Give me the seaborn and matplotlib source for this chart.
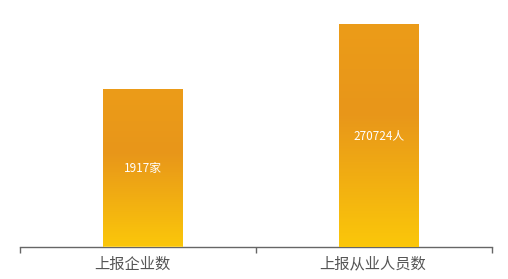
import numpy as np
import pandas as pd
import matplotlib
matplotlib.use("Agg")
import matplotlib.pyplot as plt
import seaborn as sns
from matplotlib.colors import LinearSegmentedColormap

categories = ["上报企业数", "上报从业人员数"]
values = [1917, 270724]
value_labels = ["1917家", "270724人"]
axis_max = [3000, 300000]

sns.set_theme(style="white")
plt.rcParams['font.family'] = ['Noto Sans CJK SC', 'DejaVu Sans']

fig = plt.figure(figsize=(5.08, 2.79), dpi=100)
ax = fig.add_axes([20/508, 1 - 247/279, 472/508, 247/279])
ax2 = ax.twinx()

cmap = LinearSegmentedColormap.from_list(
    "g", [(0.0, "#ec9c18"), (0.4, "#e8961a"), (1.0, "#fbc70a")])

XL = (-0.52, 1.48)
axes_list = [ax, ax2]
for i, (cat, val) in enumerate(zip(categories, values)):
    a = axes_list[i]
    df = pd.DataFrame({"cat": categories, "val": [val if j == i else 0 for j in range(2)]})
    sns.barplot(data=df, x="cat", y="val", ax=a, color="#eea01a", width=0.335,
                order=categories)
    p = a.patches[i]
    x0, y0 = p.get_x(), p.get_y()
    w, h = p.get_width(), p.get_height()
    grad = np.linspace(0, 1, 256).reshape(-1, 1)
    im = a.imshow(grad, cmap=cmap, extent=[x0, x0 + w, y0, y0 + h],
                  aspect="auto", zorder=3, origin="upper")
    im.set_clip_path(p)
    p.set_edgecolor("none")
    a.text(x0 + w / 2, h / 2, value_labels[i], ha="center", va="center",
           color="white", fontsize=8.5, zorder=5)
    a.set_xlim(*XL)
    a.set_ylim(0, axis_max[i])

for a in axes_list:
    a.set_ylabel("")
    a.set_xlabel("")
    a.set_yticks([])
    for s in ["top", "left", "right"]:
        a.spines[s].set_visible(False)
    a.spines["bottom"].set_color("#666666")
    a.spines["bottom"].set_linewidth(1.0)

ax2.spines["bottom"].set_visible(False)
ax.set_xlim(*XL)
ax.set_xticks([-0.045, 0.974])
ax.set_xticklabels(categories, fontsize=11, color="#555555")
ax.tick_params(axis="x", length=0, pad=6)
ax.set_xticks([-0.52, 0.48, 1.48], minor=True)
ax.tick_params(axis="x", which="minor", length=4, color="#666666", width=1, bottom=True)

fig.savefig("out.png", dpi=100)
